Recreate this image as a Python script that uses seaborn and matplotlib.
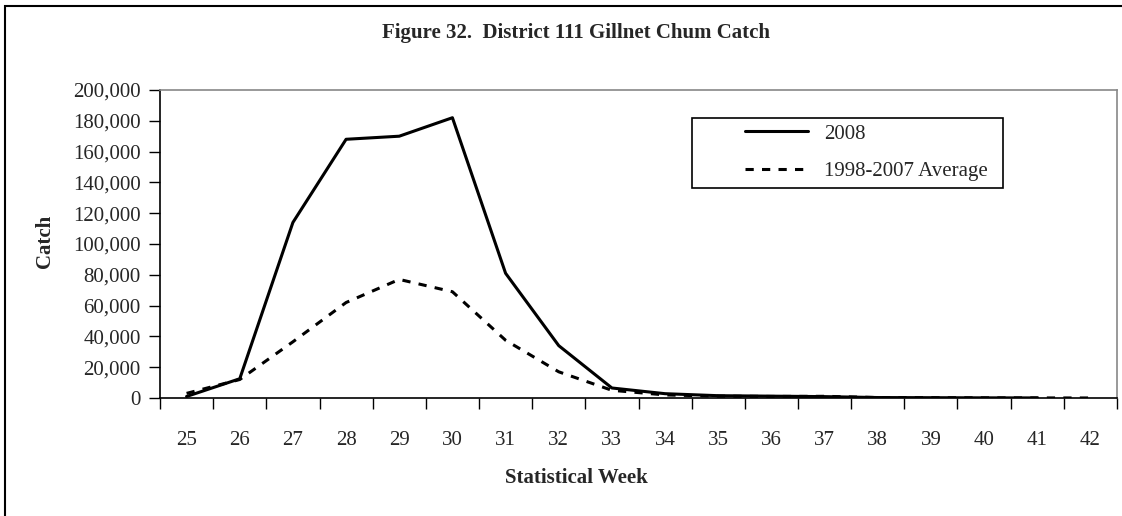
import numpy as np
import pandas as pd
import matplotlib.pyplot as plt
import matplotlib.patches as patches
from matplotlib.lines import Line2D
from matplotlib.ticker import FuncFormatter, FixedLocator
import seaborn as sns

# Data
weeks = list(range(25, 43))
catch_2008 = [1000, 12500, 114000, 168000, 170000, 182000, 81000, 34000, 6500,
              2800, 1500, 1200, 900, 300, 200, 100, 50, np.nan]
catch_avg = [3000, 12000, 36500, 62000, 77000, 69000, 37500, 17000, 5000,
             2000, 1200, 1000, 1100, 300, 200, 100, 50, 20]

df = pd.DataFrame({
    'Week': weeks * 2,
    'Catch': catch_2008 + catch_avg,
    'Series': ['2008'] * len(weeks) + ['1998-2007 Average'] * len(weeks),
})

sns.set_theme(style='white')
plt.rcParams['font.family'] = ['Liberation Serif', 'DejaVu Serif']

dash = (2.7, 2.7)

fig = plt.figure(figsize=(11.22, 5.16), dpi=100)
ax = fig.add_axes([160 / 1122, 1 - 398 / 516, (1117 - 160) / 1122, (398 - 90) / 516])

sns.lineplot(data=df, x='Week', y='Catch', style='Series', color='black',
             linewidth=2.2, dashes={'2008': '', '1998-2007 Average': dash},
             ax=ax, legend=False)

ax.set_xlim(24.5, 42.5)
ax.set_ylim(0, 200000)
ax.set_yticks(np.arange(0, 200001, 20000))
ax.yaxis.set_major_formatter(FuncFormatter(lambda v, p: f'{int(v):,}'))
ax.set_xticks(weeks)
ax.set_xticklabels([str(w) for w in weeks])
ax.xaxis.set_minor_locator(FixedLocator(np.arange(24.5, 43, 1)))
ax.tick_params(axis='x', which='major', length=0, pad=24, labelsize=15)
ax.tick_params(axis='x', which='minor', length=8, width=1, color='black', direction='out', bottom=True)
ax.tick_params(axis='y', length=8, width=1, color='black', direction='out', left=True, pad=6, labelsize=15)

for s in ['left', 'bottom']:
    ax.spines[s].set_color('black')
    ax.spines[s].set_linewidth(1.2)
for s in ['top', 'right']:
    ax.spines[s].set_color('#888888')
    ax.spines[s].set_linewidth(1.2)

ax.set_xlabel('')
ax.set_ylabel('')
fig.text(45 / 1122, 1 - 241 / 516, 'Catch', rotation=90, ha='center', va='center',
         fontsize=15, fontweight='bold')
fig.text(576 / 1122, 1 - 478 / 516, 'Statistical Week', ha='center', va='center',
         fontsize=15, fontweight='bold')
fig.text(576 / 1122, 1 - 33 / 516, 'Figure 32.  District 111 Gillnet Chum Catch',
         ha='center', va='center', fontsize=15, fontweight='bold')

# legend
handles = [Line2D([], [], color='black', lw=2.2),
           Line2D([], [], color='black', lw=2.2, dashes=dash)]
fig.legend(handles, ['2008', '1998-2007 Average'], loc='upper left',
           bbox_to_anchor=(745 / 1122, 1 - 124 / 516), frameon=False,
           borderpad=0, borderaxespad=0, handlelength=3.0, handletextpad=0.8,
           labelspacing=0.85, fontsize=15)
fig.add_artist(patches.Rectangle((692 / 1122, 1 - 188 / 516), (1003 - 692) / 1122, 70 / 516,
                                 transform=fig.transFigure, fill=False,
                                 edgecolor='black', linewidth=1.2))

# outer chart border (top and left visible)
fig.add_artist(patches.Rectangle((5 / 1122, -0.05), 1.2, 1.05 - 6 / 516,
                                 transform=fig.transFigure, fill=False,
                                 edgecolor='black', linewidth=1.5))

fig.savefig('out.png', dpi=100)
